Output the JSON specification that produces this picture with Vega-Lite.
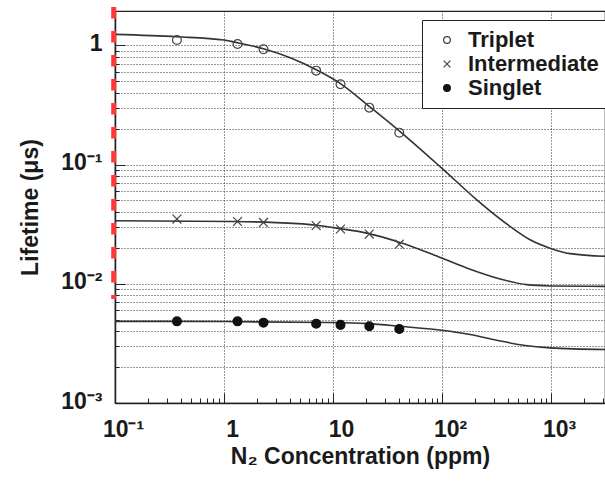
{
  "$schema": "https://vega.github.io/schema/vega-lite/v6.json",
  "width": 490,
  "height": 392,
  "autosize": {"type": "none"},
  "padding": {"left": 115, "top": 11, "right": 0, "bottom": 82},
  "background": "white",
  "config": {
    "view": {"stroke": "#222", "strokeWidth": 1.2},
    "font": "Liberation Sans",
    "legend": {
      "orient": "none",
      "legendX": 307,
      "legendY": 9,
      "strokeColor": "#222",
      "fillColor": "white",
      "padding": 9,
      "rowPadding": 2,
      "labelFont": "Liberation Sans",
      "labelFontWeight": "bold",
      "labelFontSize": 22,
      "labelColor": "#1a1a1a",
      "symbolSize": 45,
      "symbolStrokeWidth": 1.2,
      "symbolOffset": 5,
      "labelOffset": 10,
      "labelLimit": 300
    }
  },
  "datasets": {
    "curves": [
      {"series": "Triplet", "conc": 0.1, "life": 1.236},
      {"series": "Triplet", "conc": 0.37, "life": 1.18},
      {"series": "Triplet", "conc": 1.0, "life": 1.108},
      {"series": "Triplet", "conc": 1.33, "life": 1.05},
      {"series": "Triplet", "conc": 2.3, "life": 0.937},
      {"series": "Triplet", "conc": 4.05, "life": 0.787},
      {"series": "Triplet", "conc": 7.1, "life": 0.621},
      {"series": "Triplet", "conc": 11.6, "life": 0.48},
      {"series": "Triplet", "conc": 21.9, "life": 0.303},
      {"series": "Triplet", "conc": 41.2, "life": 0.189},
      {"series": "Triplet", "conc": 99.3, "life": 0.0933},
      {"series": "Triplet", "conc": 208, "life": 0.0506},
      {"series": "Triplet", "conc": 420, "life": 0.0303},
      {"series": "Triplet", "conc": 641, "life": 0.0234},
      {"series": "Triplet", "conc": 977, "life": 0.0199},
      {"series": "Triplet", "conc": 1490, "life": 0.0179},
      {"series": "Triplet", "conc": 3120, "life": 0.017},
      {"series": "Intermediate", "conc": 0.1, "life": 0.0338},
      {"series": "Intermediate", "conc": 1.22, "life": 0.0333},
      {"series": "Intermediate", "conc": 3.0, "life": 0.0326},
      {"series": "Intermediate", "conc": 7.1, "life": 0.031},
      {"series": "Intermediate", "conc": 11.6, "life": 0.029},
      {"series": "Intermediate", "conc": 20.4, "life": 0.0266},
      {"series": "Intermediate", "conc": 41.2, "life": 0.0222},
      {"series": "Intermediate", "conc": 83.2, "life": 0.01754},
      {"series": "Intermediate", "conc": 168, "life": 0.01356},
      {"series": "Intermediate", "conc": 340, "life": 0.01097},
      {"series": "Intermediate", "conc": 598, "life": 0.00983},
      {"series": "Intermediate", "conc": 977, "life": 0.00959},
      {"series": "Intermediate", "conc": 3120, "life": 0.00951},
      {"series": "Singlet", "conc": 0.1, "life": 0.00484},
      {"series": "Singlet", "conc": 1.0, "life": 0.00482},
      {"series": "Singlet", "conc": 9.5, "life": 0.00473},
      {"series": "Singlet", "conc": 20.4, "life": 0.00463},
      {"series": "Singlet", "conc": 41, "life": 0.0044},
      {"series": "Singlet", "conc": 99.3, "life": 0.00407},
      {"series": "Singlet", "conc": 181, "life": 0.00375},
      {"series": "Singlet", "conc": 317, "life": 0.00336},
      {"series": "Singlet", "conc": 556, "life": 0.00305},
      {"series": "Singlet", "conc": 977, "life": 0.0029},
      {"series": "Singlet", "conc": 3120, "life": 0.00281}
    ],
    "points": [
      {"series": "Triplet", "conc": 0.37, "life": 1.108},
      {"series": "Triplet", "conc": 1.33, "life": 1.025},
      {"series": "Triplet", "conc": 2.3, "life": 0.926},
      {"series": "Triplet", "conc": 7.0, "life": 0.613},
      {"series": "Triplet", "conc": 11.7, "life": 0.471},
      {"series": "Triplet", "conc": 21.5, "life": 0.3},
      {"series": "Triplet", "conc": 40.5, "life": 0.185},
      {"series": "Intermediate", "conc": 0.37, "life": 0.0349},
      {"series": "Intermediate", "conc": 1.33, "life": 0.0333},
      {"series": "Intermediate", "conc": 2.3, "life": 0.0327},
      {"series": "Intermediate", "conc": 7.0, "life": 0.0308},
      {"series": "Intermediate", "conc": 11.7, "life": 0.0288},
      {"series": "Intermediate", "conc": 21.5, "life": 0.0261},
      {"series": "Intermediate", "conc": 40.5, "life": 0.0215},
      {"series": "Singlet", "conc": 0.37, "life": 0.00484},
      {"series": "Singlet", "conc": 1.33, "life": 0.00484},
      {"series": "Singlet", "conc": 2.3, "life": 0.00472},
      {"series": "Singlet", "conc": 7.0, "life": 0.00463},
      {"series": "Singlet", "conc": 11.7, "life": 0.00452},
      {"series": "Singlet", "conc": 21.5, "life": 0.0044},
      {"series": "Singlet", "conc": 40.5, "life": 0.00417}
    ],
    "marker": [
      {"conc": 0.0973, "top": 2.1, "bottom": 0.00745}
    ]
  },
  "layer": [
    {
      "data": {"name": "curves"},
      "mark": {"type": "line", "color": "#333", "strokeWidth": 1.6, "interpolate": "monotone"},
      "encoding": {
        "x": {
          "field": "conc", "type": "quantitative",
          "scale": {"type": "log", "domain": [0.1, 3120], "nice": false},
          "axis": {
            "values": [0.1,0.2,0.3,0.4,0.5,0.6,0.7,0.8,0.9,1,2,3,4,5,6,7,8,9,10,20,30,40,50,60,70,80,90,100,200,300,400,500,600,700,800,900,1000,2000,3000],
            "labelExpr": "datum.value == 0.1 ? '10⁻¹' : datum.value == 1 ? '1' : datum.value == 10 ? '10' : datum.value == 100 ? '10²' : datum.value == 1000 ? '10³' : ''",
            "labelFont": "Liberation Sans",
            "labelFontWeight": "bold",
            "labelFontSize": 23,
            "labelColor": "#1a1a1a",
            "labelFlush": false,
            "labelOverlap": false,
            "labelAlign": "center",
            "labelOffset": 8,
            "labelPadding": 25,
            "tickColor": "#222",
            "tickWidth": 1,
            "tickSize": {"condition": {"test": "datum.value == 0.1 || datum.value == 1 || datum.value == 10 || datum.value == 100 || datum.value == 1000", "value": -10}, "value": -5},
            "domainColor": "#222",
            "domainWidth": 1.5,
            "grid": true,
            "gridColor": "#333",
            "gridDash": [1, 2],
            "gridWidth": 1,
            "gridOpacity": {"condition": {"test": "datum.value == 1 || datum.value == 10 || datum.value == 100 || datum.value == 1000", "value": 1}, "value": 0},
            "title": "N₂ Concentration (ppm)",
            "titleFont": "Liberation Sans",
            "titleFontWeight": "bold",
            "titleFontSize": 23,
            "titleColor": "#1a1a1a",
            "titleX": 245,
            "titleY": 60,
            "titleAlign": "center",
            "titleBaseline": "alphabetic"
          }
        },
        "y": {
          "field": "life", "type": "quantitative",
          "scale": {"type": "log", "domain": [0.001, 1.94], "nice": false},
          "axis": {
            "values": [0.001,0.002,0.003,0.004,0.005,0.006,0.007,0.008,0.009,0.01,0.02,0.03,0.04,0.05,0.06,0.07,0.08,0.09,0.1,0.2,0.3,0.4,0.5,0.6,0.7,0.8,0.9,1],
            "labelExpr": "datum.value == 1 ? '1' : datum.value == 0.1 ? '10⁻¹' : datum.value == 0.01 ? '10⁻²' : datum.value == 0.001 ? '10⁻³' : ''",
            "labelFont": "Liberation Sans",
            "labelFontWeight": "bold",
            "labelFontSize": 23,
            "labelColor": "#1a1a1a",
            "labelOverlap": false,
            "labelFlush": false,
            "labelPadding": 23,
            "labelOffset": -2,
            "tickColor": "#222",
            "tickWidth": 1,
            "tickSize": {"condition": {"test": "datum.value == 0.001 || datum.value == 0.01 || datum.value == 0.1 || datum.value == 1", "value": -10}, "value": -4},
            "domainColor": "#222",
            "domainWidth": 1.5,
            "grid": true,
            "gridColor": "#333",
            "gridDash": [1, 2],
            "gridWidth": 1,
            "title": "Lifetime (μs)",
            "titleFont": "Liberation Sans",
            "titleFontWeight": "bold",
            "titleFontSize": 23,
            "titleColor": "#1a1a1a",
            "titleAngle": -90,
            "titleX": -78,
            "titleY": 196,
            "titleAlign": "center",
            "titleBaseline": "alphabetic"
          }
        },
        "detail": {"field": "series"}
      }
    },
    {
      "data": {"name": "points"},
      "mark": {"type": "point", "size": 78, "strokeWidth": 1.2, "opacity": 1},
      "encoding": {
        "x": {"field": "conc", "type": "quantitative"},
        "y": {"field": "life", "type": "quantitative"},
        "shape": {
          "field": "series", "type": "nominal",
          "scale": {"domain": ["Triplet", "Intermediate", "Singlet"], "range": ["circle", "M-1,-1L1,1M1,-1L-1,1", "circle"]},
          "legend": {"title": null}
        },
        "fill": {
          "field": "series", "type": "nominal",
          "scale": {"domain": ["Triplet", "Intermediate", "Singlet"], "range": ["rgba(0,0,0,0)", "rgba(0,0,0,0)", "#111"]},
          "legend": {"title": null}
        },
        "stroke": {
          "field": "series", "type": "nominal",
          "scale": {"domain": ["Triplet", "Intermediate", "Singlet"], "range": ["#444", "#444", "#111"]},
          "legend": {"title": null}
        }
      }
    },
    {
      "data": {"name": "marker"},
      "mark": {"type": "rule", "color": "#ff3838", "strokeWidth": 5, "strokeDash": [11.5, 12.5]},
      "encoding": {
        "x": {"field": "conc", "type": "quantitative"},
        "y": {"field": "top", "type": "quantitative"},
        "y2": {"field": "bottom"}
      }
    }
  ]
}
